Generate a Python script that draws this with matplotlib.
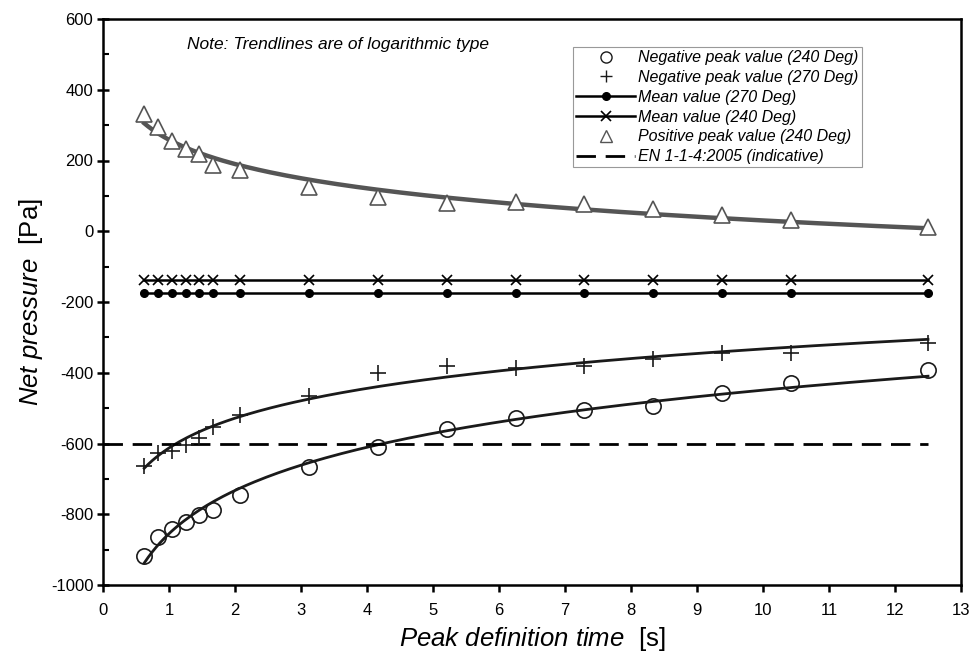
import numpy as np
import matplotlib
matplotlib.use("Agg")
import matplotlib.pyplot as plt
from matplotlib.ticker import MultipleLocator

plt.rcParams['font.family'] = ['Liberation Sans', 'DejaVu Sans']
plt.rcParams['mathtext.fontset'] = 'custom'
plt.rcParams['mathtext.rm'] = 'Liberation Sans'
plt.rcParams['mathtext.it'] = 'Liberation Sans:italic'
plt.rcParams['axes.unicode_minus'] = False

# peak definition time [s]
t = [0.625, 0.833, 1.042, 1.25, 1.458, 1.667, 2.083, 3.125, 4.167,
     5.208, 6.25, 7.292, 8.333, 9.375, 10.417, 12.5]

neg_240 = [-917, -863, -841, -823, -801, -787, -745, -666, -611,
           -560, -529, -506, -493, -457, -428, -392]
neg_270 = [-663, -627, -622, -604, -585, -552, -519, -467, -401,
           -380, -387, -382, -361, -344, -344, -316]
pos_240 = [331, 294, 256, 232, 217, 187, 173, 126, 97,
           80, 82, 77, 63, 47, 31, 13]
mean_270 = -174
mean_240 = -139
en_value = -600
en_x = [0, 12.5]

GREY = '#555555'

fig = plt.figure(figsize=(9.79, 6.61), dpi=100)
ax = fig.add_axes([103 / 979, 1 - 585 / 661, (961 - 103) / 979, (585 - 19) / 661])


def log_trend(x, y):
    b, a = np.polyfit(np.log(x), y, 1)
    xs = np.linspace(min(x), max(x), 200)
    return xs, a + b * np.log(xs)


# trendlines
xs, ys = log_trend(t, neg_240)
ax.plot(xs, ys, color='#1a1a1a', lw=2.0, zorder=2)
xs, ys = log_trend(t, neg_270)
ax.plot(xs, ys, color='#1a1a1a', lw=2.0, zorder=2)
xs, ys = log_trend(t, pos_240)
ax.plot(xs, ys, color=GREY, lw=3.2, zorder=2)

ax.plot(t, neg_240, ls='none', marker='o', ms=11, mfc='none', mec='#1a1a1a',
        mew=1.2, label='Negative peak value (240 Deg)', zorder=3)
ax.plot(t, neg_270, ls='none', marker='+', ms=11, mec='#1a1a1a',
        mew=1.2, label='Negative peak value (270 Deg)', zorder=3)
ax.plot(t, [mean_270] * len(t), color='black', lw=1.8, marker='o', ms=5.5,
        label='Mean value (270 Deg)', zorder=3)
ax.plot(t, [mean_240] * len(t), color='black', lw=1.8, marker='x', ms=6.5,
        mew=1.2, label='Mean value (240 Deg)', zorder=3)
ax.plot(t, pos_240, ls='none', marker='^', ms=11, mfc='white', mec=GREY,
        mew=1.2, label='Positive peak value (240 Deg)', zorder=3)
ax.plot(en_x, [en_value, en_value], color='black', lw=2.0, dashes=(7, 3.5),
        label='EN 1-1-4:2005 (indicative)', zorder=2)

ax.set_xlim(0, 13)
ax.set_ylim(-1000, 600)
ax.xaxis.set_major_locator(MultipleLocator(1))
ax.yaxis.set_major_locator(MultipleLocator(200))
ax.yaxis.set_minor_locator(MultipleLocator(100))
ax.tick_params(axis='x', which='major', direction='out', length=5, width=1.8,
               labelsize=12, pad=8)
ax.tick_params(axis='y', which='major', direction='inout', length=8, width=1.8,
               labelsize=12, pad=3)
ax.tick_params(axis='y', which='minor', direction='in', length=4, width=1.5)
for s in ax.spines.values():
    s.set_linewidth(1.8)

ax.set_xlabel(r'$\it{Peak\ definition\ time}$  [s]', fontsize=18.5, labelpad=5)
ax.set_ylabel(r'$\it{Net\ pressure}$  [Pa]', fontsize=18.5, labelpad=4)

ax.text(187 / 979, 1 - 45 / 661, 'Note: Trendlines are of logarithmic type',
        transform=fig.transFigure, fontsize=12.5, style='italic', va='center')

leg = ax.legend(loc='upper left', bbox_to_anchor=(573 / 979, 1 - 47 / 661),
                bbox_transform=fig.transFigure, fancybox=False, framealpha=1,
                edgecolor='#999999', borderaxespad=0, borderpad=0.2,
                handlelength=3.7, handletextpad=0.2, labelspacing=0.3,
                prop={'style': 'italic', 'size': 11.5})
leg.get_frame().set_linewidth(0.8)
for i in (0, 1, 4):
    leg.legend_handles[i].set_markersize(8)
    leg.legend_handles[i].set_markeredgewidth(1.0)

fig.savefig('out.png', dpi=100)
